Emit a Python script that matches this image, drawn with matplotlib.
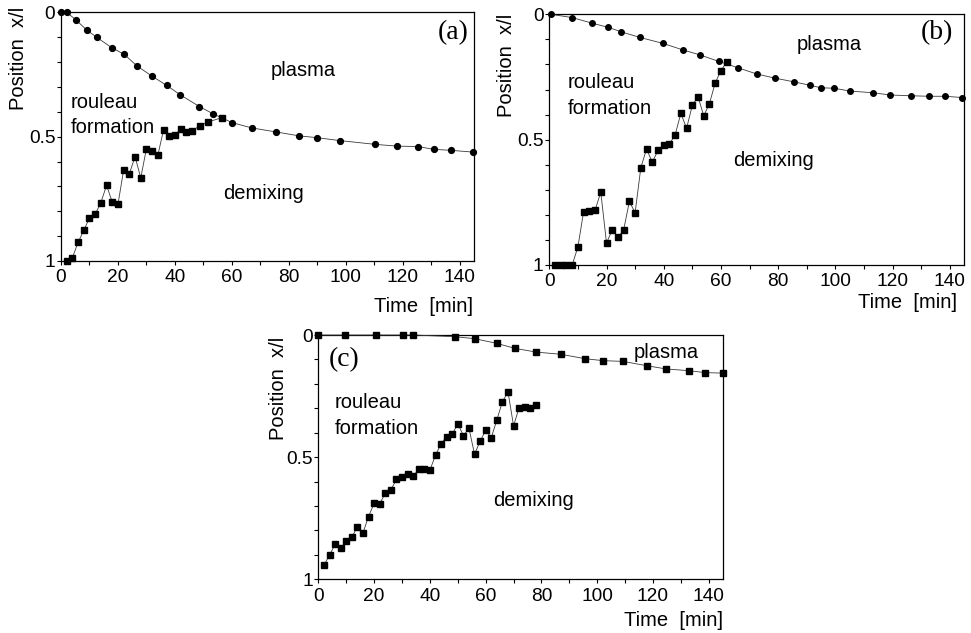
import matplotlib
matplotlib.use("Agg")
import matplotlib.pyplot as plt
from matplotlib.ticker import MultipleLocator, FixedLocator, FixedFormatter

plt.rcParams['font.family'] = ['Liberation Sans', 'DejaVu Sans']

W, H = 971, 633

# ---- (a) ----
a_plasma_t = [0, 2, 5.3, 9.0, 12.6, 17.9, 22.2, 26.7, 32.0, 37.1, 41.9, 48.6, 53.5,
              60.2, 67.0, 75.5, 83.7, 89.8, 98.0, 110.3, 117.9, 125.5, 130.8, 136.9, 144.6]
a_plasma_x = [0, 0, 0.031, 0.071, 0.101, 0.143, 0.169, 0.216, 0.257, 0.294, 0.332, 0.379,
              0.409, 0.444, 0.465, 0.481, 0.497, 0.504, 0.516, 0.531, 0.538, 0.540, 0.551,
              0.555, 0.562]
a_demix_t = [2, 4, 6, 8, 10, 12, 14, 16, 18, 20, 22, 24, 26, 28, 30, 32, 34, 36, 38, 40,
             42, 44, 46, 48.7, 51.6, 56.4]
a_demix_x = [1.0, 0.987, 0.925, 0.877, 0.826, 0.812, 0.765, 0.696, 0.763, 0.772, 0.634,
             0.649, 0.580, 0.666, 0.548, 0.556, 0.575, 0.473, 0.497, 0.495, 0.469, 0.483,
             0.477, 0.456, 0.441, 0.424]

# ---- (b) ----
b_plasma_t = [0.5, 8.0, 15.1, 20.6, 25.2, 31.6, 39.7, 46.7, 52.7, 59.3, 65.9, 72.5, 79.0,
              85.4, 91.1, 94.9, 99.6, 105.0, 113.2, 119.3, 126.5, 132.9, 138.5, 144.3]
b_plasma_x = [0, 0.013, 0.036, 0.052, 0.070, 0.092, 0.116, 0.142, 0.162, 0.188, 0.213,
              0.238, 0.255, 0.269, 0.283, 0.293, 0.295, 0.306, 0.313, 0.322, 0.325, 0.327,
              0.327, 0.332]
b_demix_t = [2, 4, 6, 8, 10, 12, 14, 16, 18, 20, 22, 24, 26, 28, 30, 32, 34, 36, 38, 40,
             42, 44, 46, 48, 50, 52, 54, 56, 58, 60, 62]
b_demix_x = [1.0, 1.0, 1.0, 1.0, 0.928, 0.787, 0.784, 0.782, 0.709, 0.912, 0.860, 0.890,
             0.860, 0.746, 0.792, 0.612, 0.537, 0.590, 0.543, 0.523, 0.517, 0.481, 0.395,
             0.455, 0.363, 0.328, 0.405, 0.356, 0.274, 0.225, 0.190]

# ---- (c) ----
c_plasma_t = [0, 9.7, 20.5, 30.3, 34.1, 49.0, 56.0, 63.9, 70.6, 78.2, 87.0, 95.6, 102.1,
              109.2, 117.9, 124.7, 132.8, 138.8, 145.0]
c_plasma_x = [0, 0, 0, 0, 0, 0.007, 0.015, 0.034, 0.055, 0.070, 0.079, 0.097, 0.105,
              0.108, 0.126, 0.139, 0.146, 0.154, 0.156]
c_demix_t = [2, 4, 6, 8, 10, 12, 14, 16, 18, 20, 22, 24, 26, 28, 30, 32, 34, 36, 38, 40,
             42, 44, 46, 48, 50, 52, 54, 56, 58, 60, 62, 64, 66, 68, 70, 72, 74, 76, 78]
c_demix_x = [0.943, 0.900, 0.857, 0.873, 0.843, 0.828, 0.784, 0.809, 0.743, 0.688, 0.690,
             0.648, 0.634, 0.591, 0.580, 0.570, 0.577, 0.550, 0.548, 0.553, 0.492, 0.445,
             0.416, 0.406, 0.363, 0.412, 0.382, 0.488, 0.435, 0.390, 0.420, 0.348, 0.273,
             0.233, 0.372, 0.297, 0.293, 0.297, 0.286]

x_ticks = [0, 20, 40, 60, 80, 100, 120, 140]
y_ticks = [0, 0.5, 1]
y_ticklabels = ['0', '0.5', '1']

LINE = dict(color='#3a3a3a', lw=0.6, clip_on=False, zorder=3)


def px(x, y):
    return x / W, 1 - y / H


def panel(rect, series):
    l, r, t, b = rect
    ax = fig.add_axes([l / W, 1 - b / H, (r - l) / W, (b - t) / H])
    for tt, xx, mk, ms in series:
        ax.plot(tt, xx, marker=mk, ms=ms, mfc='black', mec='black', **LINE)
    ax.set_xlim(0, 145)
    ax.set_ylim(1, 0)
    ax.xaxis.set_major_locator(FixedLocator(x_ticks))
    ax.xaxis.set_minor_locator(MultipleLocator(10))
    ax.yaxis.set_major_locator(FixedLocator(y_ticks))
    ax.yaxis.set_major_formatter(FixedFormatter(y_ticklabels))
    ax.yaxis.set_minor_locator(MultipleLocator(0.1))
    ax.tick_params(which='both', direction='out', length=2.6, width=0.8,
                   labelsize=13.8, color='black', top=False, right=False)
    ax.tick_params(axis='y', which='both', pad=1.5)
    ax.tick_params(axis='x', which='both', pad=3.5)
    for s in ax.spines.values():
        s.set_linewidth(0.9)
    return ax


def label(x, y, s, **kw):
    fig.text(*px(x, y), s, fontsize=14.5, **kw)


fig = plt.figure(figsize=(9.71, 6.33), dpi=100)

# (a)
panel((61, 474, 12.3, 261),
      [(a_plasma_t, a_plasma_x, 'o', 4.2), (a_demix_t, a_demix_x, 's', 4.6)])
label(303, 70, 'plasma', ha='center', va='center')
label(71, 102, 'rouleau', ha='left', va='center')
label(71, 128, 'formation', ha='left', va='center')
label(263, 193, 'demixing', ha='center', va='center')
fig.text(*px(453, 33), '(a)', fontsize=20, family='Liberation Serif',
         ha='center', va='center')
label(18, 110, 'Position  x/l', rotation=90, ha='center', va='bottom')
label(473, 307, 'Time  [min]', ha='right', va='center')

# (b)
panel((549.3, 964, 14.3, 265),
      [(b_plasma_t, b_plasma_x, 'o', 4.0), (b_demix_t, b_demix_x, 's', 4.6)])
label(829, 44, 'plasma', ha='center', va='center')
label(568, 83, 'rouleau', ha='left', va='center')
label(568, 109, 'formation', ha='left', va='center')
label(773, 161, 'demixing', ha='center', va='center')
fig.text(*px(937, 33), '(b)', fontsize=20, family='Liberation Serif',
         ha='center', va='center')
label(507, 117, 'Position  x/l', rotation=90, ha='center', va='bottom')
label(957, 303, 'Time  [min]', ha='right', va='center')

# (c)
panel((318.4, 722.7, 335, 579.3),
      [(c_plasma_t, c_plasma_x, 's', 3.8), (c_demix_t, c_demix_x, 's', 4.2)])
label(666, 353, 'plasma', ha='center', va='center')
label(335, 402, 'rouleau', ha='left', va='center')
label(335, 428, 'formation', ha='left', va='center')
label(533, 500, 'demixing', ha='center', va='center')
fig.text(*px(344, 360), '(c)', fontsize=20, family='Liberation Serif',
         ha='center', va='center')
label(278, 440, 'Position  x/l', rotation=90, ha='center', va='bottom')
label(723, 620, 'Time  [min]', ha='right', va='center')

fig.savefig('out.png', dpi=100, facecolor='white')
